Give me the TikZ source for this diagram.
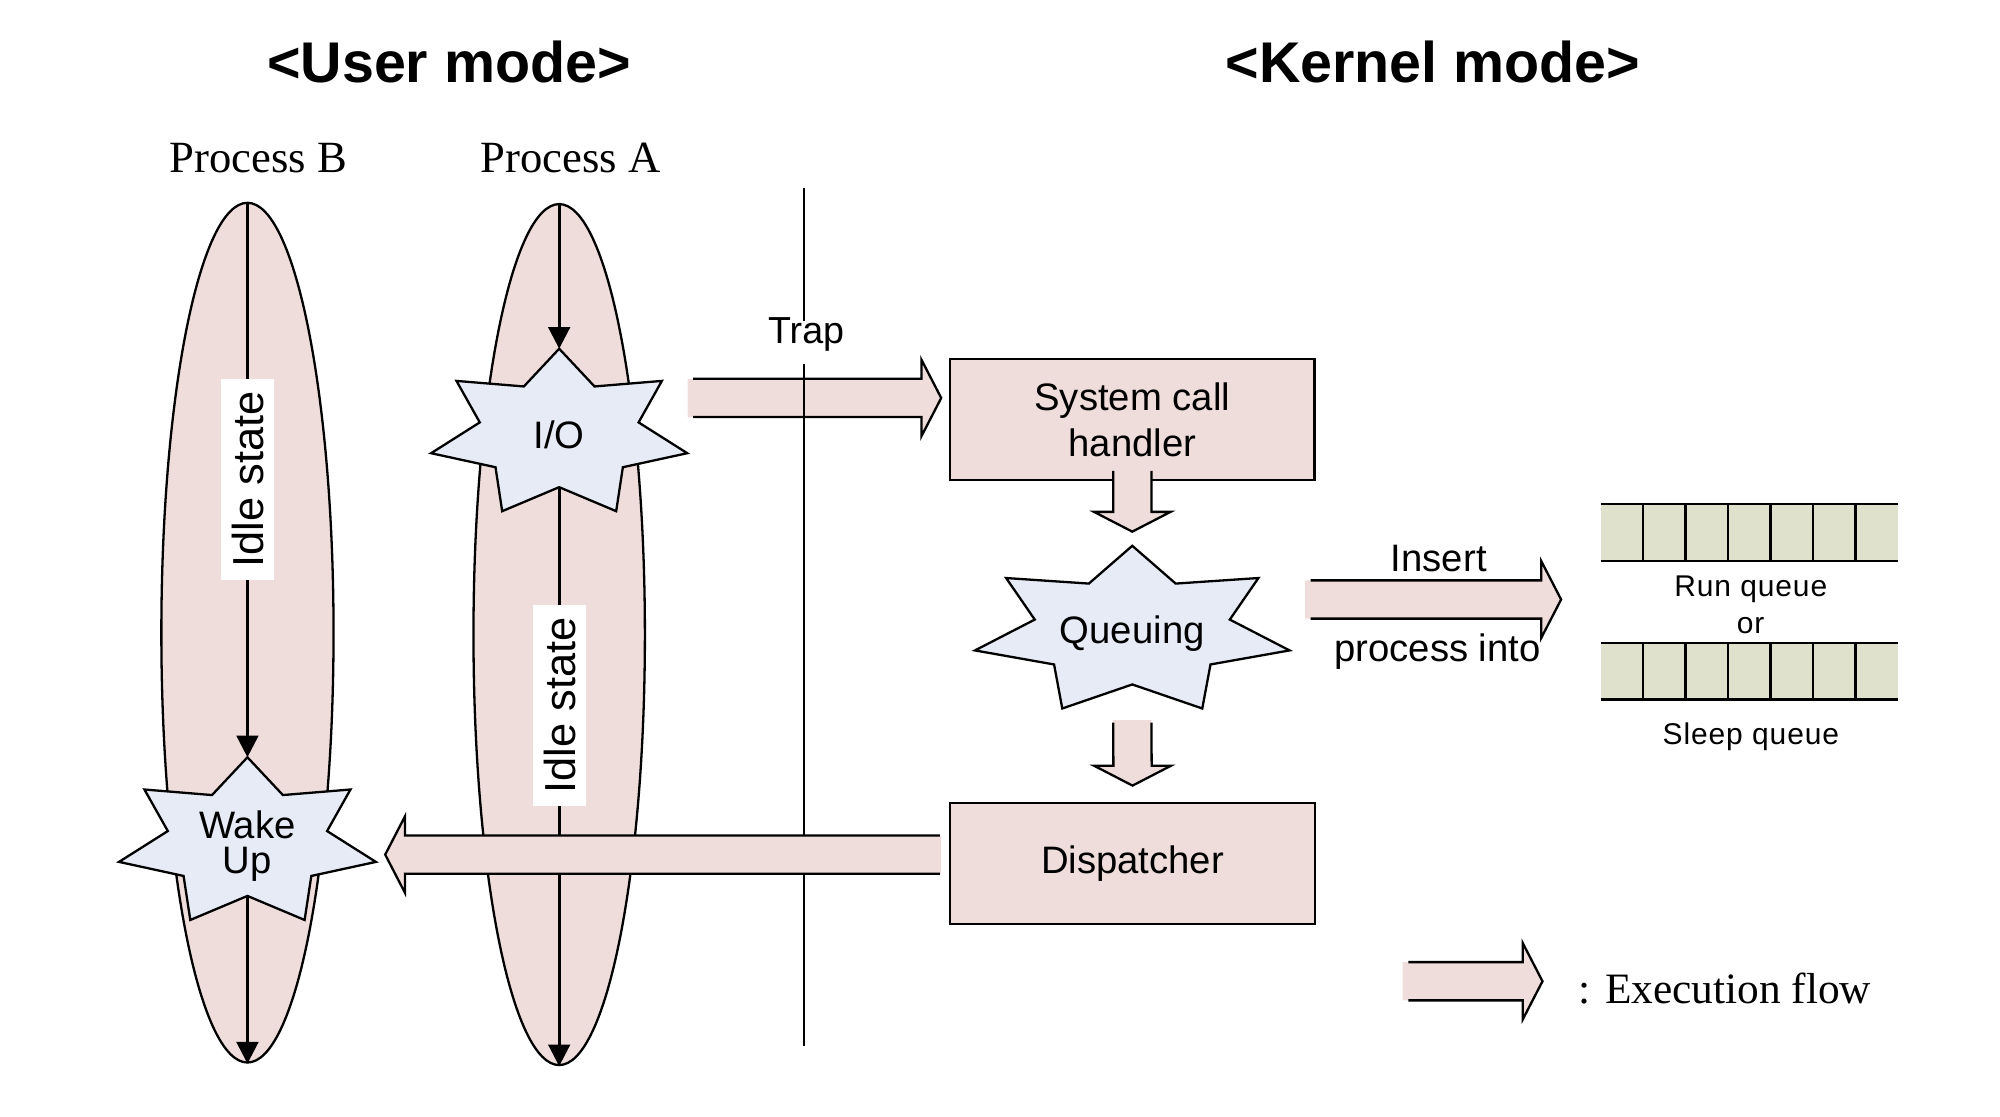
\documentclass[tikz,border=0pt]{standalone}
\usepackage{fontspec}
\setmainfont{Liberation Serif}
\setsansfont{Liberation Sans}
\newfontfamily\arial{Liberation Sans}
\newfontfamily\arialq{Liberation Sans}[LetterSpace=3.0]
\usetikzlibrary{shapes.geometric,arrows.meta,calc}
\definecolor{flowpink}{RGB}{239,221,219}
\definecolor{starblue}{RGB}{230,235,246}
\definecolor{queuegreen}{RGB}{223,225,205}
\newcommand\myfs[2]{\fontsize{#1pt}{#2pt}\selectfont}
% 7-point star, horizontally stretched: name, cx, cy, Rx, Ry
\newcommand\mystar[5]{%
  \filldraw[starsty] plot[samples at={0,...,13}, variable=\k]
    ({#2+(1-0.38*mod(\k,2))*#4*cos(90+\k*360/14)},
     {#3-(1-0.38*mod(\k,2))*#5*sin(90+\k*360/14)}) -- cycle;
  \coordinate (#1-top) at (#2,{#3-#5});
  \coordinate (#1-bot) at (#2,{#3+0.62*#5});
}
\newcommand\fatright[2]{%
  \fill[flowpink] ($(#1)+(0,-15)$) -- ($(#2)+(-15.5,-15)$) -- ($(#2)+(-15.5,-30)$) -- (#2) -- ($(#2)+(-15.5,30)$) -- ($(#2)+(-15.5,15)$) -- ($(#1)+(0,15)$) -- cycle;
  \draw[flowline] ($(#1)+(4.5,-15)$) -- ($(#2)+(-15.5,-15)$) -- ($(#2)+(-15.5,-30)$) -- (#2) -- ($(#2)+(-15.5,30)$) -- ($(#2)+(-15.5,15)$) -- ($(#1)+(4.5,15)$);}
\newcommand\fatleft[2]{%
  \fill[flowpink] ($(#1)+(0,-15)$) -- ($(#2)+(15.5,-15)$) -- ($(#2)+(15.5,-30)$) -- (#2) -- ($(#2)+(15.5,30)$) -- ($(#2)+(15.5,15)$) -- ($(#1)+(0,15)$) -- cycle;
  \draw[flowline] ($(#1)+(-1,-15)$) -- ($(#2)+(15.5,-15)$) -- ($(#2)+(15.5,-30)$) -- (#2) -- ($(#2)+(15.5,30)$) -- ($(#2)+(15.5,15)$) -- ($(#1)+(-1,15)$);}
\newcommand\fatdown[2]{%
  \fill[flowpink] ($(#1)+(-15,0)$) -- ($(#2)+(-15,-15.5)$) -- ($(#2)+(-30,-15.5)$) -- (#2) -- ($(#2)+(30,-15.5)$) -- ($(#2)+(15,-15.5)$) -- ($(#1)+(15,0)$) -- cycle;
  \draw[flowline] ($(#1)+(-15,2)$) -- ($(#2)+(-15,-15.5)$) -- ($(#2)+(-30,-15.5)$) -- (#2) -- ($(#2)+(30,-15.5)$) -- ($(#2)+(15,-15.5)$) -- ($(#1)+(15,2)$);}
\begin{document}
\begin{tikzpicture}[x=1pt,y=-1pt,
  procell/.style={ellipse, draw, fill=flowpink, line width=1.8pt, inner sep=0pt},
  kbox/.style={rectangle, draw, fill=flowpink, line width=1.8pt, align=center, inner sep=0pt, font=\arial\myfs{30}{36}},
  starsty/.style={draw, fill=starblue, line width=1.8pt, line join=miter},
  flowline/.style={draw, line width=1.8pt, line join=miter},
  procline/.style={line width=2.2pt, -{Triangle[length=17pt,width=17pt]}},
  idle/.style={fill=white, rotate=90, font=\arial\myfs{34}{40}, inner xsep=10pt, inner ysep=8pt, text height=25pt, text depth=0pt},
  lbl/.style={font=\arial\myfs{30}{36}, inner sep=0pt},
  qline/.style={line width=1.8pt},
]
\useasboundingbox (0,0) rectangle (1568,875);

% titles
\node[font=\arial\bfseries\myfs{45}{54}, anchor=base, inner sep=0pt] (tuser) at (352,65) {<User mode>};
\node[font=\arial\bfseries\myfs{45}{54}, anchor=base, inner sep=0pt] (tkern) at (1123.5,65) {<Kernel mode>};
\node[font=\myfs{35}{42}, anchor=base, inner sep=0pt] (pB) at (202.5,135) {Process B};
\node[font=\myfs{35}{42}, anchor=base, inner sep=0pt] (pA) at (447.5,135) {Process A};

% process ellipses
\node[procell, minimum width=135pt, minimum height=674pt] (ellB) at (194,496) {};
\node[procell, minimum width=134.4pt, minimum height=675pt] (ellA) at (438.4,497.5) {};

% stars in user space
\mystar{wake}{194}{660.8}{103.3}{67.1}
\mystar{io}{438.4}{340.4}{103}{67}

% execution lines in processes
\draw[procline] (ellB.north) -- (wake-top);
\draw[procline] (wake-bot) -- (ellB.south);
\draw[procline] (ellA.north) -- (io-top);
\draw[procline] (io-bot) -- (ellA.south);

\node[idle] (idleB) at (194,376) {Idle state};
\node[idle] (idleA) at (438.6,553) {Idle state};

\node[lbl, anchor=base] (iotext) at (438.4,351.5) {I/O};
\node[font=\arial\myfs{30}{27}, align=center, inner sep=0pt] (waketext) at (194,663.5) {Wake\\Up};

% trap arrow
\coordinate (trap-s) at (539,312);
\coordinate (trap-e) at (737.9,312);
\fatright{trap-s}{trap-e}

% divider
\coordinate (div-top) at (630,147);
\coordinate (div-bot) at (630,820);
\draw[line width=1.6pt] (div-top) -- (div-bot);
\node[font=\arial\myfs{29.5}{34}, fill=white, anchor=base, inner xsep=3pt, inner ysep=0pt, text height=18pt, text depth=16pt] (trap) at (632,269.5) {Trap};

% kernel boxes
\node[kbox, minimum width=285.5pt, minimum height=94.6pt] (sch) at (887.7,329) {System call\\handler};
\node[kbox, minimum width=285.7pt, minimum height=94.6pt] (disp) at (887.9,677.1) {Dispatcher};

% queuing star and arrows
\coordinate (d1s) at ($(sch.south)+(0,-10)$);
\coordinate (d1e) at (887.7,416.8);
\fatdown{d1s}{d1e}
\mystar{que}{887.7}{495}{126.5}{67.1}
\node[lbl, anchor=base] (quetext) at (887.7,504.4) {Queuing};
\coordinate (d2s) at (887.7,564.5);
\coordinate (d2e) at ($(disp.north)+(0,-13)$);
\fatdown{d2s}{d2e}

% dispatcher back to process B
\coordinate (dl-s) at (737.8,670);
\coordinate (dl-e) at (302,670);
\fatleft{dl-s}{dl-e}

% insert arrow
\coordinate (ins-s) at (1023.1,470);
\coordinate (ins-e) at (1223.9,470);
\fatright{ins-s}{ins-e}
\node[lbl, anchor=base] (instext) at (1128,448.2) {Insert};
\node[lbl, anchor=base] (proctext) at (1127,518.7) {process into};

% queues
\node[fill=queuegreen, minimum width=233.3pt, minimum height=44.5pt, inner sep=0pt, outer sep=0pt] (runq) at (1371.45,417.35) {};
\node[fill=queuegreen, minimum width=233.3pt, minimum height=44.4pt, inner sep=0pt, outer sep=0pt] (sleepq) at (1371.45,526.1) {};
\foreach \q in {runq,sleepq}{
  \draw[qline] (\q.north west) -- (\q.north east);
  \draw[qline] (\q.south west) -- (\q.south east);
  \foreach \i in {1,...,6}
    \draw[qline] ($(\q.north west)!\i/7!(\q.north east)$) -- ($(\q.south west)!\i/7!(\q.south east)$);
}
\node[font=\arialq\myfs{23.5}{28}, anchor=base, inner sep=0pt] (runl) at (1372.6,467.3) {Run queue};
\node[font=\arialq\myfs{23.5}{28}, anchor=base, inner sep=0pt] (orl) at (1372.5,497) {or};
\node[font=\arialq\myfs{23.5}{28}, anchor=base, inner sep=0pt] (sleepl) at (1372.7,584) {Sleep queue};

% legend
\coordinate (leg-s) at (1099.6,769.3);
\coordinate (leg-e) at (1209.3,769.3);
\fatright{leg-s}{leg-e}
\node[font=\myfs{34}{40}, anchor=base west, inner sep=0pt] (legtext) at (1237.4,786.6) {: Execution flow};
\end{tikzpicture}
\end{document}
